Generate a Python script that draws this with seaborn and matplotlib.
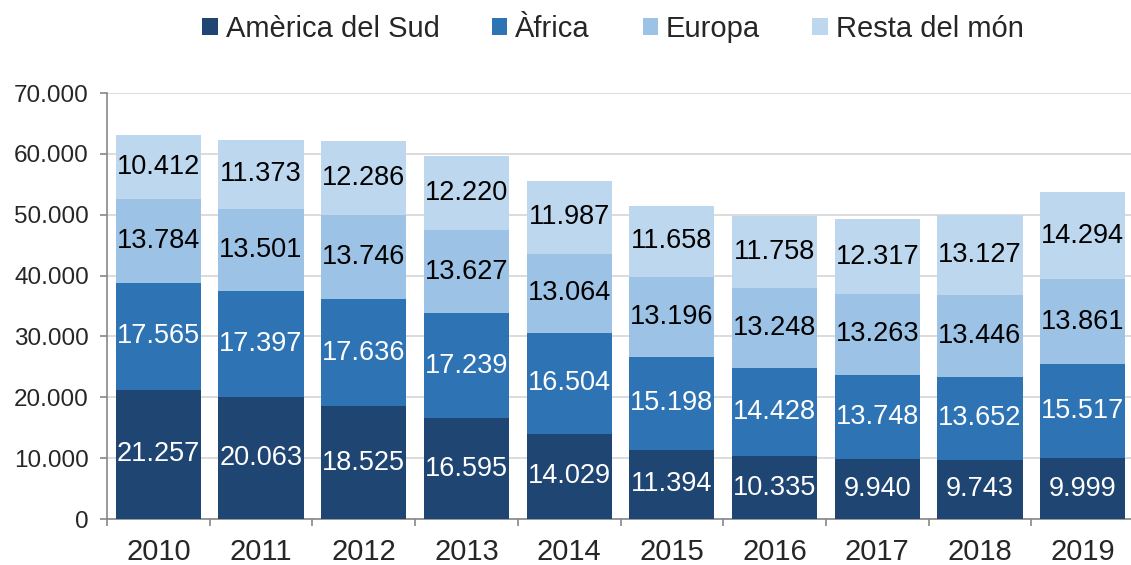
import matplotlib
matplotlib.use("Agg")
import matplotlib.pyplot as plt
import seaborn as sns
import pandas as pd
import numpy as np
from matplotlib.ticker import FuncFormatter, FixedLocator
from matplotlib.patches import Patch

years = ["2010", "2011", "2012", "2013", "2014", "2015", "2016", "2017", "2018", "2019"]
america_sud = [21257, 20063, 18525, 16595, 14029, 11394, 10335, 9940, 9743, 9999]
africa = [17565, 17397, 17636, 17239, 16504, 15198, 14428, 13748, 13652, 15517]
europa = [13784, 13501, 13746, 13627, 13064, 13196, 13248, 13263, 13446, 13861]
resta = [10412, 11373, 12286, 12220, 11987, 11658, 11758, 12317, 13127, 14294]
series_names = ["Amèrica del Sud", "Àfrica", "Europa", "Resta del món"]
colors = ["#1f4572", "#2e74b5", "#9cc2e5", "#bdd7ee"]
label_colors = ["white", "white", "black", "black"]

sns.set_style("white")
plt.rcParams['font.family'] = ['Liberation Sans', 'DejaVu Sans']

fig = plt.figure(figsize=(11.31, 5.65), dpi=100)
ax = fig.add_axes([107 / 1131, 46 / 565, 1027 / 1131, 426 / 565])

def fmt(v):
    return f"{int(round(v)):,}".replace(",", ".")

series = [america_sud, africa, europa, resta]
bottom = np.zeros(len(years))
for vals, name, col, lc in zip(series, series_names, colors, label_colors):
    df = pd.DataFrame({"year": years, "value": vals})
    sns.barplot(data=df, x="year", y="value", order=years, color=col,
                bottom=bottom, width=0.83, ax=ax, saturation=1, errorbar=None,
                edgecolor="none", linewidth=0, zorder=3)
    cont = ax.containers[-1]
    ax.bar_label(cont, labels=[fmt(v) for v in vals], label_type="center",
                 color=lc, fontsize=19.5, zorder=4)
    bottom = bottom + np.array(vals)

ax.set_ylim(0, 70000)
ax.set_xlim(-0.5, len(years) - 0.5)
ax.set_yticks(np.arange(0, 70001, 10000))
ax.yaxis.set_major_formatter(FuncFormatter(lambda v, p: fmt(v)))
ax.grid(axis="y", color="#d9d9d9", linewidth=1.3, zorder=0)
ax.set_axisbelow(True)
ax.set_xlabel("")
ax.set_ylabel("")

for s in ["top", "right"]:
    ax.spines[s].set_visible(False)
for s in ["left", "bottom"]:
    ax.spines[s].set_color("#888888")
    ax.spines[s].set_linewidth(1.2)

ax.tick_params(axis="y", which="major", length=5, color="#888888", width=1.2,
               labelsize=17.5, pad=8, direction="out", left=True)
ax.tick_params(axis="x", which="major", length=0, labelsize=21, pad=14)
ax.xaxis.set_minor_locator(FixedLocator(np.arange(-0.5, len(years), 1.0)))
ax.tick_params(axis="x", which="minor", length=5, color="#888888", width=1.2,
               direction="out", bottom=True)

handles = [Patch(facecolor=c, edgecolor="none") for c in colors]
fig.legend(handles, series_names, loc="center", bbox_to_anchor=(0.542, 0.949),
           ncol=4, frameon=False, fontsize=21, handlelength=0.52, handleheight=0.52,
           handletextpad=0.28, columnspacing=1.8)

fig.savefig("out.png", dpi=100)
